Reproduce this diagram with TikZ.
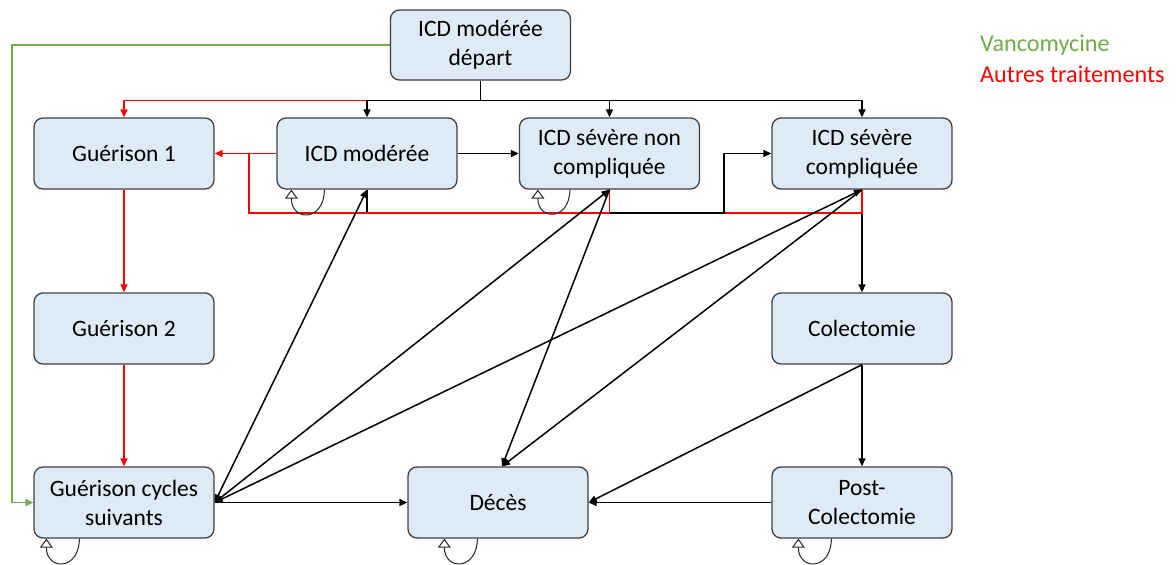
\documentclass[tikz,border=0pt]{standalone}
\usepackage{fontspec}
\setmainfont{Carlito}
\usetikzlibrary{arrows.meta}
\definecolor{boxfill}{HTML}{DEEAF6}
\definecolor{boxline}{HTML}{404040}
\definecolor{vgreen}{HTML}{70AD47}
\definecolor{ared}{HTML}{FF0000}
\begin{document}
\begin{tikzpicture}[x=1pt,y=-1pt,
  state/.style={draw=boxline, line width=1.3pt, fill=boxfill, rounded corners=9pt,
    minimum width=180pt, minimum height=71pt, align=center, inner sep=0pt,
    font=\fontsize{23.5}{29}\selectfont},
  tip/.tip={Triangle[length=8pt,width=7pt]},
  blk/.style={draw=black, line width=1.5pt},
  redl/.style={draw=ared, line width=1.5pt},
  grn/.style={draw=vgreen, line width=1.5pt},
  selfloop/.style={draw=black!85, line width=1pt, -{Triangle[open,length=9pt,width=13pt]},
    out=-90, in=-90, looseness=2.5},
  legend/.style={anchor=west, inner sep=0pt, font=\fontsize{24.2}{29}\selectfont}
]
\useasboundingbox (0,0) rectangle (1176,565);

% nodes
\node[state, minimum height=70pt] (depart) at (480.5,45) {ICD modérée\\départ};
\node[state] (G1)   at (124,153.5) {Guérison 1};
\node[state] (ICDm) at (367,153.5) {ICD modérée};
\node[state] (SNC)  at (609.5,153.5) {ICD sévère non\\compliquée};
\node[state] (SC)   at (862,153.5) {ICD sévère\\compliquée};
\node[state] (G2)   at (124,328.5) {Guérison 2};
\node[state] (Col)  at (862,328.5) {Colectomie};
\node[state] (GCS)  at (124,502.5) {Guérison cycles\\suivants};
\node[state] (Deces) at (498,502.5) {Décès};
\node[state] (Post) at (862,502.5) {Post-\\Colectomie};

\node[legend, text=vgreen] (lv) at (980,45) {Vancomycine};
\node[legend, text=ared] (la) at (980,74) {Autres traitements};

\coordinate (rb) at (249,213);
\coordinate (kb) at (724,213);
\coordinate (gl) at (12,45);

% green
\draw[grn, -tip] (depart.west) -- (gl) |- (GCS.west);

% red from depart
\draw[redl, -tip] (depart.south) -- ++(0,20) -| (G1.north);
% black tree
\draw[blk, -tip] (depart.south) -- ++(0,20) -| (ICDm.north);
\draw[blk, -tip] (depart.south) -- ++(0,20) -| (SNC.north);
\draw[blk, -tip] (depart.south) -- ++(0,20) -| (SC.north);

% horizontal row 1
\draw[blk, -tip] (ICDm) -- (SNC);
\draw[redl, -tip] (ICDm) -- (G1);

% SC -> Colectomie
\draw[blk, -tip] (SC.south) -- (Col.north);
% red return SC -> G1
\draw[redl] (SC.south) |- (rb) -- (rb |- G1.east);
% black ICDm -> SC
\draw[blk, -tip] (ICDm.south) |- (kb) |- (SC.west);
% red return SNC -> G1
\draw[redl] (SNC.south) |- (rb);

% red column
\draw[redl, -tip] (G1) -- (G2);
\draw[redl, -tip] (G2) -- (GCS);

% diagonals
\draw[blk, tip-tip] (GCS.east) -- (ICDm.south);
\draw[blk, tip-tip] (GCS.east) -- (SNC.south);
\draw[blk, tip-tip] (GCS.east) -- (SC.south);
\draw[blk, -tip] (SNC.south) -- ([xshift=4pt]Deces.north);
\draw[blk, -tip] (SC.south) -- ([xshift=4pt]Deces.north);

% bottom
\draw[blk, -tip] (GCS) -- (Deces);
\draw[blk, -tip] (Col) -- (Post);
\draw[blk, -tip] (Col.south) -- (Deces.east);
\draw[blk, -tip] (Post) -- (Deces);

% self loops
\draw[selfloop] ([xshift=48pt]ICDm.south west) to ([xshift=15pt]ICDm.south west);
\draw[selfloop] ([xshift=51pt]SNC.south west) to ([xshift=19pt]SNC.south west);
\draw[selfloop] ([xshift=46pt]GCS.south west) to ([xshift=13pt]GCS.south west);
\draw[selfloop] ([xshift=70pt]Deces.south west) to ([xshift=37pt]Deces.south west);
\draw[selfloop] ([xshift=60pt]Post.south west) to ([xshift=27pt]Post.south west);
\end{tikzpicture}
\end{document}
